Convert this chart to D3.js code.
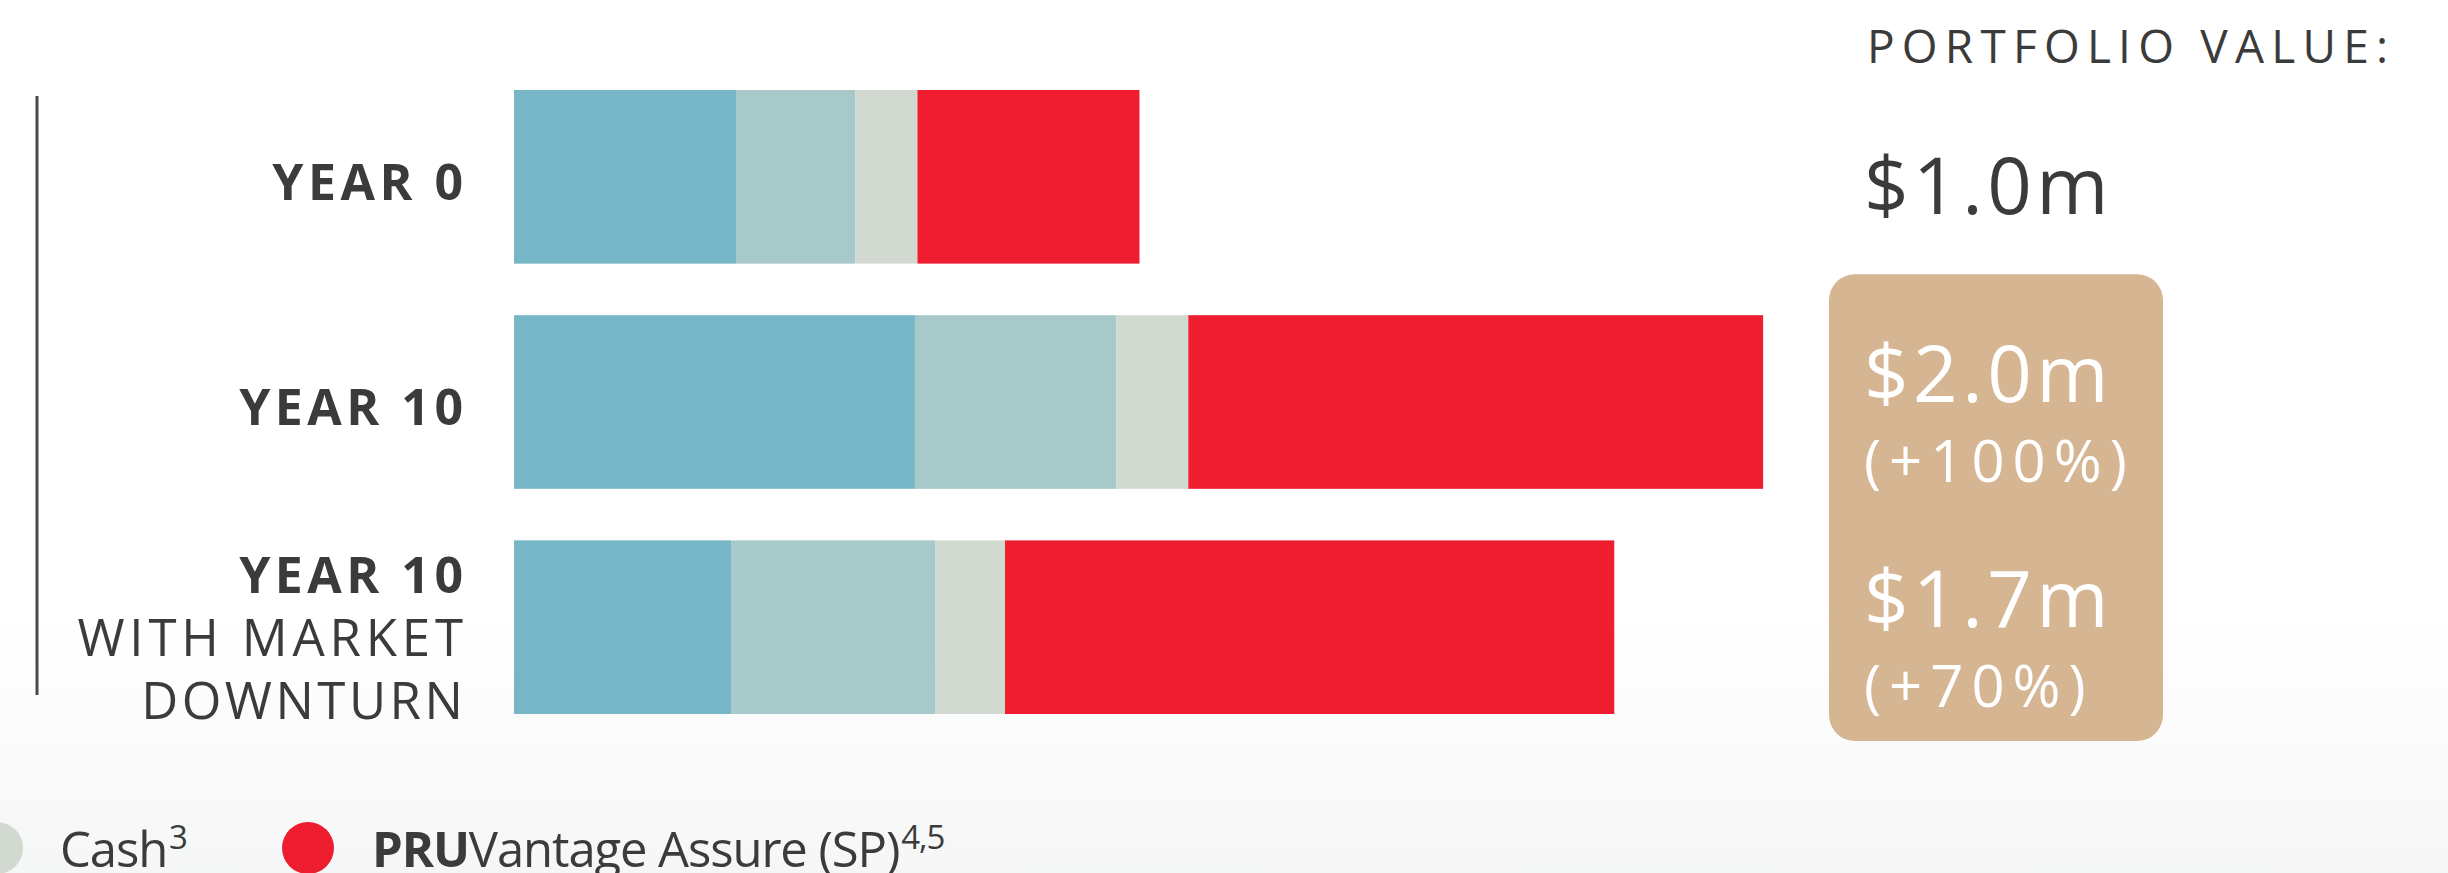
<!DOCTYPE html>
<html>
<head>
<meta charset="utf-8">
<script src="https://cdn.jsdelivr.net/npm/d3@7"></script>
<style>
  html, body { margin: 0; padding: 0; background: #fff; }
  svg { display: block; }
</style>
</head>
<body>
<div id="chart"></div>
<script>
;(function (window, document, undefined) {

  'use strict';

  // chart data
  var categories = ['YEAR 0', 'YEAR 10', 'YEAR 10 WITH MARKET DOWNTURN'];
  var categoryLines = [['YEAR 0'], ['YEAR 10'], ['YEAR 10', 'WITH MARKET', 'DOWNTURN']];
  var seriesNames = ['Equities', 'Bonds', 'Cash', 'PRUVantage Assure (SP)'];
  var equities = [0.355, 0.641, 0.347];
  var bonds = [0.191, 0.322, 0.327];
  var cash = [0.099, 0.115, 0.111];
  var pruvantage = [0.355, 0.919, 0.974];
  var portfolioValues = ['$1.0m', '$2.0m', '$1.7m'];
  var portfolioChanges = [null, '(+100%)', '(+70%)'];

  var colors = ['#76b6c6', '#a8c9ca', '#d2d9d1', '#ee1d30'];
  var W = 2448, H = 873;
  var textColor = '#3b3b3b';

  var series = [equities, bonds, cash, pruvantage];
  var rows = categories.map(function (c, i) {
    var row = { key: c };
    seriesNames.forEach(function (s, j) { row[s] = series[j][i]; });
    return row;
  });
  var stacked = d3.stack().keys(seriesNames)(rows);

  var svg = d3.select('#chart').append('svg')
    .attr('width', W).attr('height', H);

  var grad = svg.append('defs').append('linearGradient')
    .attr('id', 'bg').attr('x1', 0).attr('y1', 0).attr('x2', 0).attr('y2', 1);
  grad.append('stop').attr('offset', '0.7').attr('stop-color', '#ffffff');
  grad.append('stop').attr('offset', '1').attr('stop-color', '#f5f7f6');
  svg.append('rect').attr('width', W).attr('height', H).attr('fill', 'url(#bg)');

  var x = d3.scaleLinear().domain([0, 2]).range([514, 1765]);
  var y = d3.scaleBand().domain(categories).range([90, 714]).paddingInner(0.229).paddingOuter(0);

  // bars
  svg.append('g').selectAll('g')
    .data(stacked)
    .join('g')
      .attr('fill', function (d, i) { return colors[i]; })
    .selectAll('rect')
    .data(function (d) { return d; })
    .join('rect')
      .attr('x', function (d) { return x(d[0]); })
      .attr('width', function (d) { return x(d[1]) - x(d[0]); })
      .attr('y', function (d) { return y(d.data.key); })
      .attr('height', y.bandwidth());

  // left rule
  svg.append('line')
    .attr('x1', 37).attr('x2', 37)
    .attr('y1', y(categories[0]) + 6).attr('y2', y(categories[2]) + y.bandwidth() - 19)
    .attr('stroke', '#4a4a4a').attr('stroke-width', 3);

  // category labels
  categories.forEach(function (c, i) {
    var lines = categoryLines[i];
    var cy = y(c) + y.bandwidth() / 2;
    var first = cy + 23 - (lines.length - 1) * 28.5;
    lines.forEach(function (line, k) {
      var ls = k === 0 ? 4.5 : (line === 'DOWNTURN' ? 3.5 : 4.8);
      svg.append('text')
        .attr('x', 463 + ls).attr('y', first + k * 63)
        .attr('text-anchor', 'end')
        .style('font-family', '"Open Sans", sans-serif')
        .style('font-size', k === 0 ? '50px' : '51px')
        .style('font-weight', k === 0 ? 700 : 400)
        .style('letter-spacing', ls + 'px')
        .attr('fill', textColor)
        .text(line);
    });
  });

  // portfolio value panel
  svg.append('text')
    .attr('x', 1867).attr('y', 63)
    .style('font-family', '"Open Sans", sans-serif')
    .style('font-size', '46px')
    .style('letter-spacing', '7.2px')
    .attr('fill', textColor)
    .text('PORTFOLIO VALUE:');

  svg.append('rect')
    .attr('x', 1829).attr('width', 334)
    .attr('y', y(categories[1]) - 41)
    .attr('height', y(categories[2]) + y.bandwidth() + 27 - (y(categories[1]) - 41))
    .attr('rx', 26).attr('ry', 26)
    .attr('fill', '#d5b592');

  categories.forEach(function (c, i) {
    var cy = y(c) + y.bandwidth() / 2;
    var base = portfolioChanges[i] ? cy : cy + 37;
    var fill = portfolioChanges[i] ? '#ffffff' : textColor;
    svg.append('text')
      .attr('x', 1864).attr('y', base)
      .style('font-family', '"Open Sans", sans-serif')
      .style('font-size', '78px')
      .style('letter-spacing', '4.5px')
      .attr('fill', fill)
      .text(portfolioValues[i]);
    if (portfolioChanges[i]) {
      svg.append('text')
        .attr('x', 1864).attr('y', base + 80)
        .style('font-family', '"Open Sans", sans-serif')
        .style('font-size', '58px')
        .style('letter-spacing', '8px')
        .attr('fill', fill)
        .text(portfolioChanges[i]);
    }
  });

  // legend (only the last two entries fit in view)
  var legendY = 848;
  var legend = [
    { color: colors[2], cx: -3, tx: 60, parts: [{ t: 'Cash', w: 400 }], sup: '3' },
    { color: colors[3], cx: 308, tx: 372, parts: [{ t: 'PRU', w: 700 }, { t: 'Vantage Assure (SP)', w: 400 }], sup: '4,5' }
  ];
  legend.forEach(function (d) {
    svg.append('circle')
      .attr('cx', d.cx).attr('cy', legendY).attr('r', 26)
      .attr('fill', d.color);
    var t = svg.append('text')
      .attr('x', d.tx).attr('y', 867)
      .style('font-family', '"Open Sans", sans-serif')
      .style('font-size', '49px')
      .style('letter-spacing', '-1.1px')
      .attr('fill', textColor);
    d.parts.forEach(function (p) {
      t.append('tspan').style('font-weight', p.w).text(p.t);
    });
    t.append('tspan')
      .attr('dx', 2)
      .attr('dy', -18)
      .style('font-size', '33px')
      .style('font-weight', 400)
      .text(d.sup);
  });

})(window, document);
</script>
</body>
</html>
